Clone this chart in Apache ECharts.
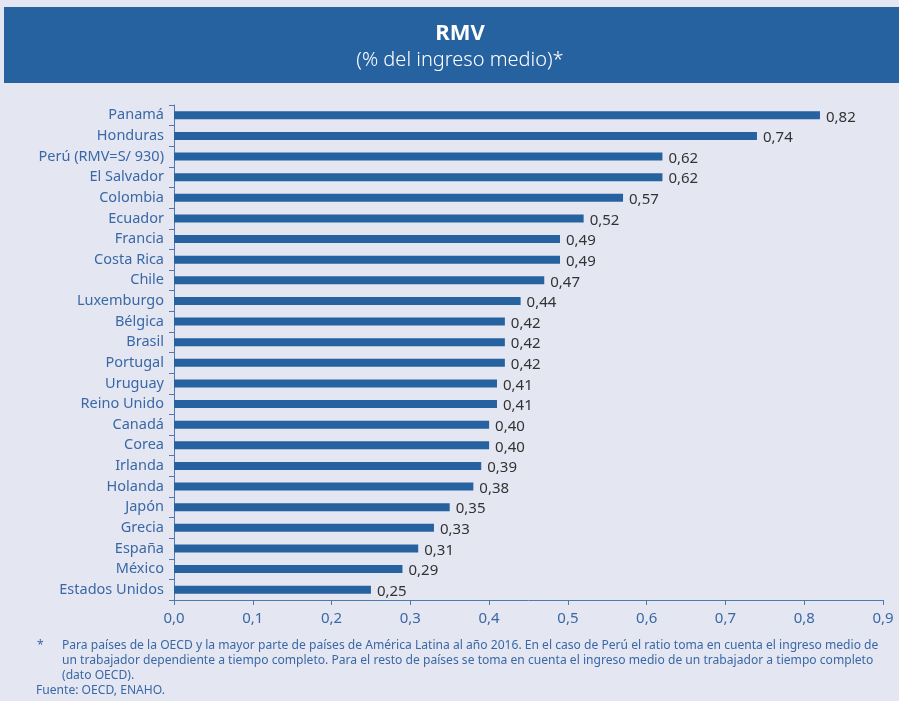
<!DOCTYPE html>
<html><head><meta charset="utf-8">
<script src="https://cdn.jsdelivr.net/npm/echarts@6/dist/echarts.min.js"></script>
<style>html,body{margin:0;padding:0;background:#e4e6f2;}#c{width:899px;height:701px;}</style>
</head><body><div id="c"></div>
<script>
const categories = ["Panamá","Honduras","Perú (RMV=S/ 930)","El Salvador","Colombia","Ecuador","Francia","Costa Rica","Chile","Luxemburgo","Bélgica","Brasil","Portugal","Uruguay","Reino Unido","Canadá","Corea","Irlanda","Holanda","Japón","Grecia","España","México","Estados Unidos"];
const values = [0.82,0.74,0.62,0.62,0.57,0.52,0.49,0.49,0.47,0.44,0.42,0.42,0.42,0.41,0.41,0.40,0.40,0.39,0.38,0.35,0.33,0.31,0.29,0.25];
const xTicks = [0,0.1,0.2,0.3,0.4,0.5,0.6,0.7,0.8,0.9];
const titleText = "RMV";
const subtitleText = "(% del ingreso medio)*";
const noteLines = [
 "Para países de la OECD y la mayor parte de países de América Latina al año 2016. En el caso de Perú el ratio toma en cuenta el ingreso medio de",
 "un trabajador dependiente a tiempo completo. Para el resto de países se toma en cuenta el ingreso medio de un trabajador a tiempo completo",
 "(dato OECD)."
];
const sourceText = "Fuente: OECD, ENAHO.";

const FONT = "Noto Sans";
const BLUE = "#2762a0";
const TXT = "#3a68a6";
const fmt = v => v.toFixed(2).replace('.', ',');

const chart = echarts.init(document.getElementById('c'));
const graphics = [
  {type:'rect', shape:{x:4,y:7,width:895,height:76}, style:{fill:BLUE}, z:-1},
  {type:'text', x:460, y:34, style:{text:titleText, fill:'#fff', font:'bold 22px "'+FONT+'"', textAlign:'center', textVerticalAlign:'middle'}},
  {type:'text', x:460, y:60, style:{text:subtitleText, fill:'#fff', font:'300 20px "'+FONT+'"', textAlign:'center', textVerticalAlign:'middle'}},
  {type:'text', x:37, y:646, style:{text:'*', fill:TXT, font:'12.1px "'+FONT+'"', textVerticalAlign:'middle'}}
];
noteLines.forEach((t,i)=>graphics.push({type:'text', x:62, y:646+i*15, style:{text:t, fill:TXT, font:'12.1px "'+FONT+'"', textVerticalAlign:'middle'}}));
graphics.push({type:'text', x:36, y:691, style:{text:sourceText, fill:TXT, font:'12.1px "'+FONT+'"', textVerticalAlign:'middle'}});

chart.setOption({
  backgroundColor:'#e4e6f2',
  animation:false,
  grid:{left:174, right:16, top:105, bottom:101, containLabel:false},
  xAxis:{type:'value', min:0, max:0.9, interval:0.1,
    axisLine:{show:true, lineStyle:{color:'#4f78b0', width:1}},
    axisTick:{show:true, length:5, lineStyle:{color:'#4f78b0'}},
    splitLine:{show:false},
    axisLabel:{color:TXT, fontFamily:FONT, fontSize:15, margin:11, formatter:v=>v.toFixed(1).replace('.', ',')}},
  yAxis:{type:'category', data:categories, inverse:true,
    axisLine:{show:true, lineStyle:{color:'#4f78b0'}},
    axisTick:{show:true, length:5, lineStyle:{color:'#4f78b0'}},
    axisLabel:{color:TXT, fontFamily:FONT, fontSize:14.5, margin:10}},
  series:[{type:'bar', data:values, barWidth:8, itemStyle:{color:BLUE},
    label:{show:true, position:'right', distance:6, offset:[0,2], color:'#333', fontFamily:FONT, fontSize:15, formatter:p=>fmt(p.value)}}],
  graphic:graphics
});
</script></body></html>
